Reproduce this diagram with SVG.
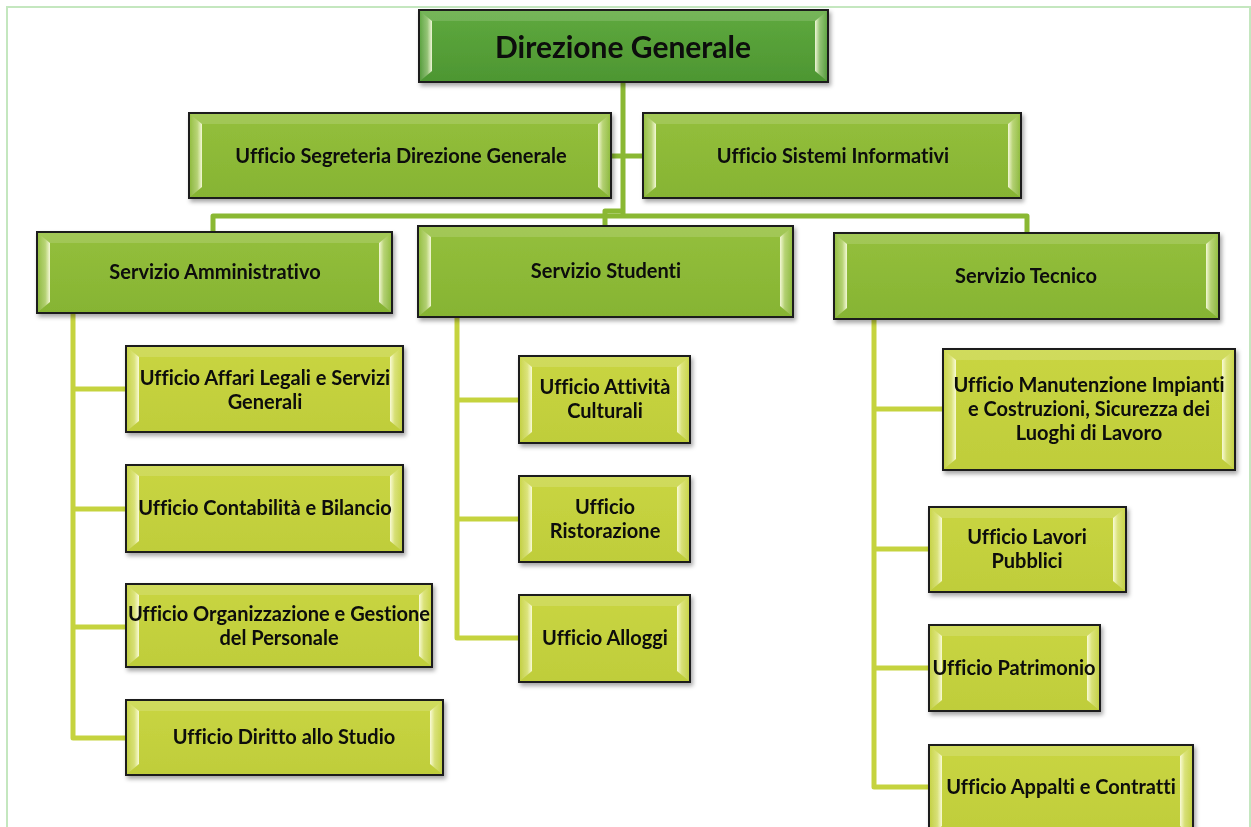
<svg xmlns="http://www.w3.org/2000/svg" width="1251" height="827" viewBox="0 0 1251 827">
<defs>
<style>
.t{font-family:Lato,"Liberation Sans",sans-serif;font-weight:bold;font-size:20px;fill:#0a0a0a;text-anchor:middle;font-variant-ligatures:none;font-feature-settings:"liga" 0,"clig" 0}
.t28{font-size:30px}
.box{stroke:#1c1c1c;stroke-width:2}
.dk{fill:url(#gDark)}
.md{fill:url(#gMid)}
.yl{fill:url(#gYel)}
.bl{fill:url(#bevL)}
.br{fill:url(#bevR)}
.bt{fill:#ffffff;fill-opacity:0.14}
.c1{fill:none;stroke:#8ab833;stroke-width:5;stroke-linejoin:round;stroke-linecap:butt}
.c2{fill:none;stroke:#c5d33e;stroke-width:5;stroke-linejoin:round;stroke-linecap:butt}
</style>
<linearGradient id="gDark" x1="0" y1="0" x2="0" y2="1"><stop offset="0" stop-color="#5fa93e"/><stop offset="1" stop-color="#4d9632"/></linearGradient>
<linearGradient id="gMid" x1="0" y1="0" x2="0" y2="1"><stop offset="0" stop-color="#94bf3c"/><stop offset="1" stop-color="#86b433"/></linearGradient>
<linearGradient id="gYel" x1="0" y1="0" x2="0" y2="1"><stop offset="0" stop-color="#c9d542"/><stop offset="1" stop-color="#bfcd3a"/></linearGradient>
<linearGradient id="bevL" x1="0" y1="0" x2="1" y2="0"><stop offset="0" stop-color="#ffffff" stop-opacity="0.05"/><stop offset="0.6" stop-color="#ffffe0" stop-opacity="0.35"/><stop offset="1" stop-color="#ffffe8" stop-opacity="0.9"/></linearGradient>
<linearGradient id="bevR" x1="1" y1="0" x2="0" y2="0"><stop offset="0" stop-color="#ffffff" stop-opacity="0.05"/><stop offset="0.6" stop-color="#ffffe0" stop-opacity="0.35"/><stop offset="1" stop-color="#ffffe8" stop-opacity="0.9"/></linearGradient>
<filter id="sh" x="-10%" y="-10%" width="120%" height="130%"><feDropShadow dx="2" dy="3" stdDeviation="2" flood-color="#000" flood-opacity="0.35"/></filter>
</defs>
<rect x="7" y="7" width="1243" height="840" fill="none" stroke="#c4e7bf" stroke-width="2"/>
<g id="connectors">
<path class="c1" d="M623,82 V216"/>
<path class="c1" d="M611,156 H643"/>
<path class="c1" d="M213,232 V216 H1027 V233"/>
<path class="c1" d="M623,211 H605 V226"/>
<path class="c2" d="M73,313 V738 H126 M73,389 H126 M73,509 H126 M73,627 H126"/>
<path class="c2" d="M457,317 V638 H519 M457,400 H519 M457,519 H519"/>
<path class="c2" d="M874,319 V787 H929 M874,409 H943 M874,549 H929 M874,668 H929"/>
</g>
<g id="n-dg" filter="url(#sh)"><rect class="box dk" x="419" y="10" width="409" height="72"/><polygon class="bl" points="420,11 432,21 432,71 420,81"/><polygon class="br" points="827,11 815,21 815,71 827,81"/><polygon class="bt" points="420,11 827,11 815,21 432,21"/><text class="t t28" x="623" y="58">Direzione Generale</text></g>
<g id="n-seg" filter="url(#sh)"><rect class="box md" x="189" y="113" width="422" height="85"/><polygon class="bl" points="190,114 202,124 202,187 190,197"/><polygon class="br" points="610,114 598,124 598,187 610,197"/><polygon class="bt" points="190,114 610,114 598,124 202,124"/><text class="t" x="401" y="163">Ufficio Segreteria Direzione Generale</text></g>
<g id="n-sis" filter="url(#sh)"><rect class="box md" x="643" y="113" width="378" height="85"/><polygon class="bl" points="644,114 656,124 656,187 644,197"/><polygon class="br" points="1020,114 1008,124 1008,187 1020,197"/><polygon class="bt" points="644,114 1020,114 1008,124 656,124"/><text class="t" x="833" y="163">Ufficio Sistemi Informativi</text></g>
<g id="n-amm" filter="url(#sh)"><rect class="box md" x="37" y="232" width="355" height="81"/><polygon class="bl" points="38,233 50,243 50,302 38,312"/><polygon class="br" points="391,233 379,243 379,302 391,312"/><polygon class="bt" points="38,233 391,233 379,243 50,243"/><text class="t" x="215" y="279">Servizio Amministrativo</text></g>
<g id="n-stu" filter="url(#sh)"><rect class="box md" x="418" y="226" width="375" height="91"/><polygon class="bl" points="419,227 431,237 431,306 419,316"/><polygon class="br" points="792,227 780,237 780,306 792,316"/><polygon class="bt" points="419,227 792,227 780,237 431,237"/><text class="t" x="606" y="278">Servizio Studenti</text></g>
<g id="n-tec" filter="url(#sh)"><rect class="box md" x="834" y="233" width="385" height="86"/><polygon class="bl" points="835,234 847,244 847,308 835,318"/><polygon class="br" points="1218,234 1206,244 1206,308 1218,318"/><polygon class="bt" points="835,234 1218,234 1206,244 847,244"/><text class="t" x="1026" y="283">Servizio Tecnico</text></g>
<g id="n-aff" filter="url(#sh)"><rect class="box yl" x="126" y="346" width="277" height="86"/><polygon class="bl" points="127,347 139,357 139,421 127,431"/><polygon class="br" points="402,347 390,357 390,421 402,431"/><polygon class="bt" points="127,347 402,347 390,357 139,357"/><text class="t" x="265" y="385">Ufficio Affari Legali e Servizi</text><text class="t" x="265" y="409">Generali</text></g>
<g id="n-con" filter="url(#sh)"><rect class="box yl" x="126" y="465" width="277" height="87"/><polygon class="bl" points="127,466 139,476 139,541 127,551"/><polygon class="br" points="402,466 390,476 390,541 402,551"/><polygon class="bt" points="127,466 402,466 390,476 139,476"/><text class="t" x="265" y="515">Ufficio Contabilità e Bilancio</text></g>
<g id="n-org" filter="url(#sh)"><rect class="box yl" x="126" y="584" width="306" height="83"/><polygon class="bl" points="127,585 139,595 139,656 127,666"/><polygon class="br" points="431,585 419,595 419,656 431,666"/><polygon class="bt" points="127,585 431,585 419,595 139,595"/><text class="t" x="279" y="621">Ufficio Organizzazione e Gestione</text><text class="t" x="279" y="645">del Personale</text></g>
<g id="n-dir" filter="url(#sh)"><rect class="box yl" x="126" y="700" width="317" height="75"/><polygon class="bl" points="127,701 139,711 139,764 127,774"/><polygon class="br" points="442,701 430,711 430,764 442,774"/><polygon class="bt" points="127,701 442,701 430,711 139,711"/><text class="t" x="284" y="744">Ufficio Diritto allo Studio</text></g>
<g id="n-att" filter="url(#sh)"><rect class="box yl" x="519" y="356" width="171" height="87"/><polygon class="bl" points="520,357 532,367 532,432 520,442"/><polygon class="br" points="689,357 677,367 677,432 689,442"/><polygon class="bt" points="520,357 689,357 677,367 532,367"/><text class="t" x="605" y="394">Ufficio Attività</text><text class="t" x="605" y="418">Culturali</text></g>
<g id="n-ris" filter="url(#sh)"><rect class="box yl" x="519" y="476" width="171" height="86"/><polygon class="bl" points="520,477 532,487 532,551 520,561"/><polygon class="br" points="689,477 677,487 677,551 689,561"/><polygon class="bt" points="520,477 689,477 677,487 532,487"/><text class="t" x="605" y="514">Ufficio</text><text class="t" x="605" y="538">Ristorazione</text></g>
<g id="n-all" filter="url(#sh)"><rect class="box yl" x="519" y="595" width="171" height="87"/><polygon class="bl" points="520,596 532,606 532,671 520,681"/><polygon class="br" points="689,596 677,606 677,671 689,681"/><polygon class="bt" points="520,596 689,596 677,606 532,606"/><text class="t" x="605" y="645">Ufficio Alloggi</text></g>
<g id="n-man" filter="url(#sh)"><rect class="box yl" x="943" y="349" width="292" height="121"/><polygon class="bl" points="944,350 956,360 956,459 944,469"/><polygon class="br" points="1234,350 1222,360 1222,459 1234,469"/><polygon class="bt" points="944,350 1234,350 1222,360 956,360"/><text class="t" x="1089" y="392">Ufficio Manutenzione Impianti</text><text class="t" x="1089" y="416">e Costruzioni, Sicurezza dei</text><text class="t" x="1089" y="440">Luoghi di Lavoro</text></g>
<g id="n-lav" filter="url(#sh)"><rect class="box yl" x="929" y="507" width="197" height="85"/><polygon class="bl" points="930,508 942,518 942,581 930,591"/><polygon class="br" points="1125,508 1113,518 1113,581 1125,591"/><polygon class="bt" points="930,508 1125,508 1113,518 942,518"/><text class="t" x="1027" y="544">Ufficio Lavori</text><text class="t" x="1027" y="568">Pubblici</text></g>
<g id="n-pat" filter="url(#sh)"><rect class="box yl" x="929" y="625" width="171" height="86"/><polygon class="bl" points="930,626 942,636 942,700 930,710"/><polygon class="br" points="1099,626 1087,636 1087,700 1099,710"/><polygon class="bt" points="930,626 1099,626 1087,636 942,636"/><text class="t" x="1014" y="675">Ufficio Patrimonio</text></g>
<g id="n-app" filter="url(#sh)"><rect class="box yl" x="929" y="745" width="264" height="92"/><polygon class="bl" points="930,746 942,756 942,826 930,836"/><polygon class="br" points="1192,746 1180,756 1180,826 1192,836"/><polygon class="bt" points="930,746 1192,746 1180,756 942,756"/><text class="t" x="1061" y="794">Ufficio Appalti e Contratti</text></g>
</svg>
